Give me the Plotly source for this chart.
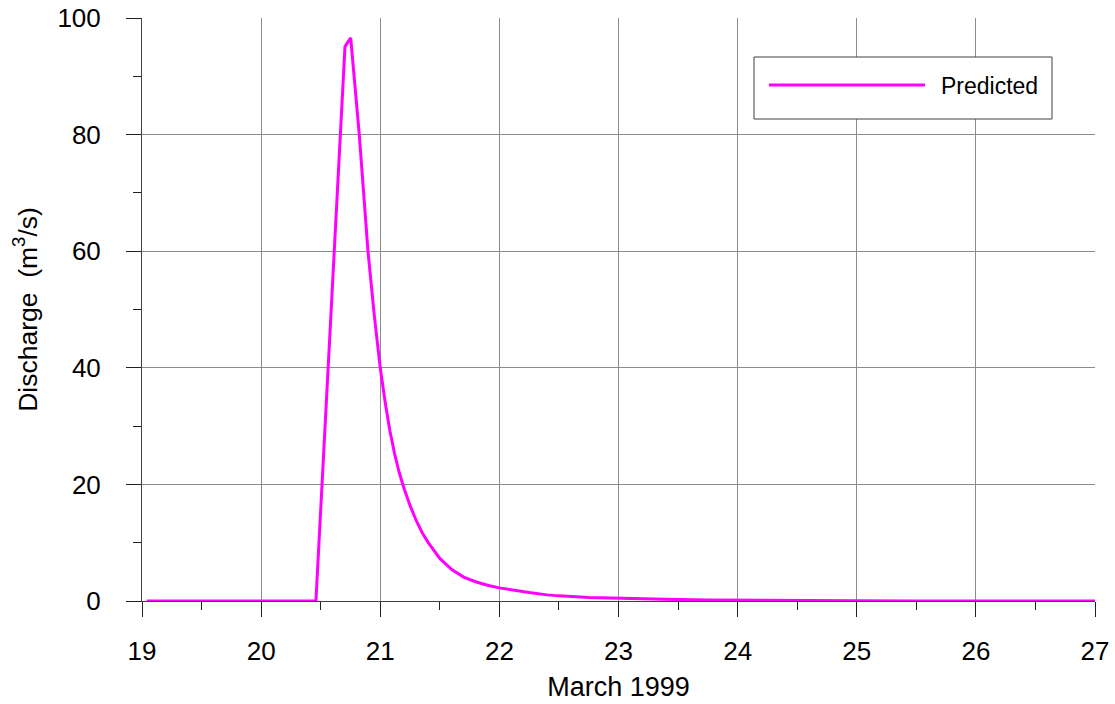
import plotly.graph_objects as go

# Data: day of March 1999 (fractional) and predicted discharge (m3/s)
days = [19.04, 20.46, 20.704, 20.752, 20.824, 20.855, 20.897, 20.95, 21.0, 21.04,
        21.08, 21.12, 21.16, 21.2, 21.25, 21.3, 21.35, 21.4, 21.45, 21.5,
        21.6, 21.7, 21.8, 21.9, 22.0, 22.1, 22.25, 22.4, 22.5, 22.75,
        23.0, 23.25, 23.5, 23.75, 24.0, 24.5, 25.0, 25.5, 26.0, 27.0]
predicted = [0, 0, 95.1, 96.6, 80.0, 71.0, 60.0, 49.0, 40.0, 34.3,
             29.3, 25.3, 22.0, 19.3, 16.4, 13.9, 11.8, 10.1, 8.6, 7.3,
             5.4, 4.1, 3.3, 2.7, 2.25, 1.9, 1.45, 1.05, 0.88, 0.62,
             0.46, 0.33, 0.24, 0.17, 0.12, 0.07, 0.04, 0.02, 0.01, 0.0]

x_ticks = [19, 20, 21, 22, 23, 24, 25, 26, 27]
y_ticks = [0, 20, 40, 60, 80, 100]
series_name = "Predicted"

FONT = "Liberation Sans, Arial, sans-serif"
MAGENTA = "#FF00FF"

fig = go.Figure()
fig.add_trace(go.Scatter(x=days, y=predicted, mode="lines", name=series_name,
                         line=dict(color=MAGENTA, width=3), showlegend=False))

fig.update_layout(
    width=1115, height=704,
    margin=dict(l=142, r=20, t=18, b=103),
    plot_bgcolor="white", paper_bgcolor="white",
    font=dict(family=FONT, size=26, color="black"),
    showlegend=False,
)

fig.update_xaxes(
    range=[19, 27], tickvals=x_ticks, ticktext=[str(t) for t in x_ticks],
    tickfont=dict(size=26),
    showgrid=True, gridcolor="#8c8c8c", gridwidth=1,
    showline=True, linecolor="#404040", linewidth=1,
    ticks="outside", ticklen=15, tickcolor="#202020", tickwidth=1,
    minor=dict(dtick=0.5, tick0=19, ticks="outside", ticklen=8, tickcolor="#202020", showgrid=False),
    zeroline=False, ticklabelstandoff=12, automargin=False, ticklabeloverflow="allow",
    title=dict(text="March 1999", font=dict(size=27), standoff=11),
)
fig.update_yaxes(
    range=[0, 100], tickvals=y_ticks,
    tickfont=dict(size=26),
    showgrid=True, gridcolor="#8c8c8c", gridwidth=1,
    showline=True, linecolor="#404040", linewidth=1,
    ticks="outside", ticklen=15, tickcolor="#202020", tickwidth=1,
    minor=dict(dtick=10, tick0=0, ticks="outside", ticklen=8, tickcolor="#202020", showgrid=False),
    zeroline=False, ticklabelstandoff=20, automargin=False, ticklabeloverflow="allow",
    title=dict(text="Discharge  (m<sup>3</sup>/s)", font=dict(size=26.5), standoff=12),
)

# Legend box drawn in paper coordinates (plot area: x 142..1095, y 18..601)
fig.add_shape(type="rect", xref="paper", yref="paper",
              x0=(754 - 142) / 953, x1=(1052 - 142) / 953,
              y0=(601 - 119) / 583, y1=(601 - 57) / 583,
              line=dict(color="#404040", width=1), fillcolor="white", layer="above")
fig.add_shape(type="line", xref="paper", yref="paper",
              x0=(769 - 142) / 953, x1=(925 - 142) / 953,
              y0=(601 - 85) / 583, y1=(601 - 85) / 583,
              line=dict(color=MAGENTA, width=3), layer="above")
fig.add_annotation(text=series_name, xref="paper", yref="paper",
                   x=(939 - 142) / 953, y=(601 - 86) / 583,
                   xanchor="left", yanchor="middle", showarrow=False,
                   font=dict(size=23, family=FONT, color="black"))

fig.write_html("out.html", post_script="document.body.style.margin='0';",
               config={"displayModeBar": False})
